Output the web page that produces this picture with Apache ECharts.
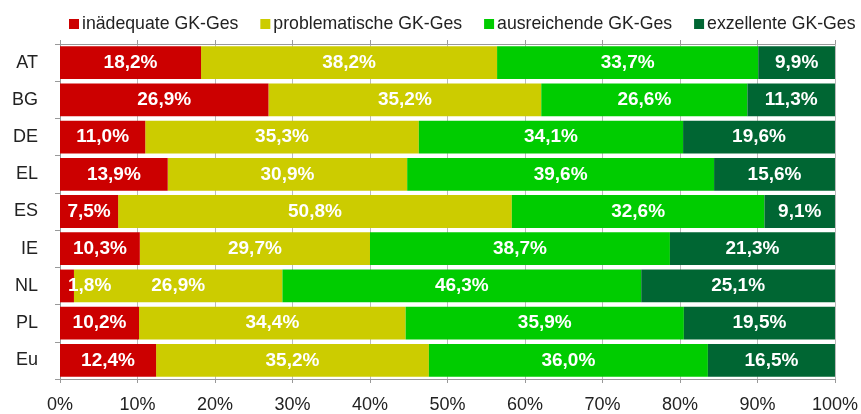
<!DOCTYPE html>
<html>
<head>
<meta charset="utf-8">
<script src="https://cdn.jsdelivr.net/npm/echarts@6/dist/echarts.min.js"></script>
<style>
html, body { margin: 0; padding: 0; background: #fff; }
#chart { width: 861px; height: 414px; }
</style>
</head>
<body>
<div id="chart"></div>
<script>
const categories = ['AT', 'BG', 'DE', 'EL', 'ES', 'IE', 'NL', 'PL', 'Eu']
const seriesNames = ['inädequate GK-Ges', 'problematische GK-Ges', 'ausreichende GK-Ges', 'exzellente GK-Ges']
const inadequate = [18.2, 26.9, 11.0, 13.9, 7.5, 10.3, 1.8, 10.2, 12.4]
const problematic = [38.2, 35.2, 35.3, 30.9, 50.8, 29.7, 26.9, 34.4, 35.2]
const sufficient = [33.7, 26.6, 34.1, 39.6, 32.6, 38.7, 46.3, 35.9, 36.0]
const excellent = [9.9, 11.3, 19.6, 15.6, 9.1, 21.3, 25.1, 19.5, 16.5]
const colors = ['#cc0000', '#cccc00', '#00cc00', '#006633']

const fmt = p => p.value.toFixed(1).replace('.', ',') + '%'

function makeSeries(name, data, color, z) {
    return {
        name: name,
        type: 'bar',
        stack: 'total',
        color: color,
        z: z,
        barCategoryGap: '12%',
        label: {
            show: true,
            color: '#fff',
            fontWeight: 'bold',
            fontSize: 19,
            fontFamily: 'Liberation Sans',
            formatter: fmt
        },
        // tiny segments get their label pushed to the right, like the original
        data: data.map(v => v < 3
            ? { value: v, label: { position: 'insideLeft', distance: 8 } }
            : v)
    }
}

const chart = echarts.init(document.getElementById('chart'))
chart.setOption({
    animation: false,
    textStyle: { fontFamily: 'Liberation Sans' },
    legend: {
        top: 10,
        left: 64,
        itemWidth: 10,
        itemHeight: 10,
        itemGap: 22,
        icon: 'rect',
        textStyle: { fontSize: 17.7, color: '#222', padding: [0, 0, 0, -2] },
        data: seriesNames
    },
    grid: { left: 60, right: 25, top: 44, bottom: 33 },
    xAxis: [
        {
            type: 'value',
            min: 0,
            max: 100,
            interval: 10,
            axisLine: { show: true, lineStyle: { color: '#999' } },
            axisTick: { show: true, length: 4, lineStyle: { color: '#999' } },
            splitLine: { show: true, lineStyle: { color: '#bbb' } },
            axisLabel: { formatter: '{value}%', fontSize: 18, color: '#222', margin: 17 }
        },
        {
            type: 'value',
            position: 'top',
            min: 0,
            max: 100,
            interval: 10,
            axisLine: { show: true, lineStyle: { color: '#999' } },
            axisTick: { show: true, length: 4, lineStyle: { color: '#999' } },
            splitLine: { show: false },
            axisLabel: { show: false }
        }
    ],
    yAxis: {
        type: 'category',
        inverse: true,
        data: categories,
        axisLine: { show: true, lineStyle: { color: '#999' } },
        axisTick: { show: true, length: 5, lineStyle: { color: '#999' } },
        axisLabel: { fontSize: 18, color: '#222', margin: 22 }
    },
    series: [
        makeSeries(seriesNames[0], inadequate, colors[0], 4),
        makeSeries(seriesNames[1], problematic, colors[1], 2),
        makeSeries(seriesNames[2], sufficient, colors[2], 2),
        makeSeries(seriesNames[3], excellent, colors[3], 2)
    ]
})
</script>
</body>
</html>
